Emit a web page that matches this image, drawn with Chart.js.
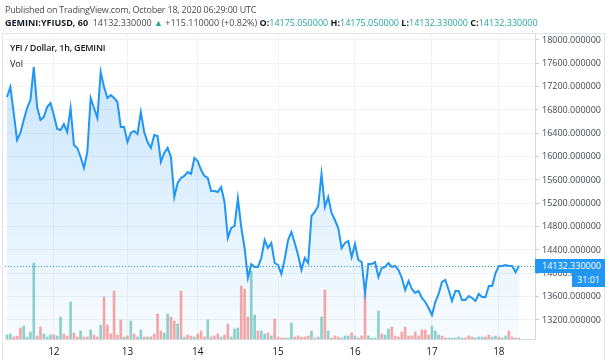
<!DOCTYPE html>
<html>
<head>
<meta charset="utf-8">
<script src="https://cdn.jsdelivr.net/npm/chart.js@4.4.0/dist/chart.umd.min.js"></script>
<style>
  html, body { margin: 0; padding: 0; background: #fff; }
  #wrap { position: relative; width: 609px; height: 360px; font-family: "Open Sans", sans-serif; color: #131722; }
  #chart { position: absolute; left: 0; top: 0; }
  #hdr { position: absolute; left: 5px; top: 3px; font-size: 9px; line-height: 13px; color: #4a4a4a; white-space: nowrap; }
  #hdr .l1 { letter-spacing: -0.2px; }
  #hdr b { color: #131722; font-weight: 700; }
  .up { color: #26a69a; }
  #legend { position: absolute; left: 10px; top: 40px; font-size: 9px; line-height: 16px; color: #131722; }
  #legend .t { font-weight: 600; letter-spacing: -0.2px; }
  #tag { position: absolute; left: 535px; width: 70px; height: 14px; background: #2196f3; color: #fff; font-size: 9px; line-height: 14px; padding-left: 7px; box-sizing: border-box; }
  #timer { position: absolute; left: 572px; width: 33px; height: 14px; background: #2196f3; color: #fff; font-size: 9px; line-height: 14px; text-align: center; }
</style>
</head>
<body>
<div id="wrap">
  <canvas id="chart" width="609" height="360"></canvas>
  <div id="hdr">
    <div class="l1">Published on TradingView.com, October 18, 2020 06:29:00 UTC</div>
    <div><b>GEMINI:YFIUSD, 60</b>&nbsp; 14132.330000 <span class="up">▲</span> +115.110000 (+0.82%) <b>O:</b><span class="up">14175.050000</span> <b>H:</b><span class="up">14175.050000</span> <b>L:</b><span class="up">14132.330000</span> <b>C:</b><span class="up">14132.330000</span></div>
  </div>
  <div id="legend">
    <div class="t">YFI / Dollar, 1h, GEMINI</div>
    <div>Vol</div>
  </div>
  <div id="tag">14132.330000</div>
  <div id="timer">31:01</div>
</div>
<script>
// hourly bars
const dayLabels = ['12', '13', '14', '15', '16', '17', '18'];
const dayTickIdx = [14, 36, 57, 81, 104, 127, 147];
const priceTicks = [13200, 13600, 14000, 14400, 14800, 15200, 15600, 16000, 16400, 16800, 17200, 17600, 18000];

const closes = [
    17023, 17194, 16749, 16286, 16406, 16629, 16834, 16971, 17537, 16851,
    16629, 16680, 16851, 16920, 16714, 16474, 16457, 16560, 16423, 16834,
    16200, 16149, 15994, 15806, 16080, 17006, 16834, 16663, 17451, 17194,
    17006, 17057, 17006, 16937, 16509, 16509, 16251, 16406, 16440, 16389,
    16766, 16423, 16251, 16149, 16371, 16354, 15909, 16063, 16149, 15994,
    15309, 15549, 15634, 15669, 15737, 15703, 15977, 15926, 15771, 15669,
    15634, 15411, 15411, 15394, 15480, 15223, 14606, 14777, 14811, 15291,
    14794, 14434, 13920, 14160, 14109, 14109, 14263, 14571, 14434, 14520,
    14177, 14143, 13989, 14246, 14571, 14709, 14520, 14314, 14057, 14263,
    14177, 14983, 15051, 15154, 15703, 15137, 15309, 15034, 14914, 14777,
    14434, 14520, 14554, 14280, 14503, 14229, 14194, 13663, 14160, 14160,
    14194, 13937, 14091, 14109, 14177, 14109, 14126, 14057, 13920, 13714,
    13869, 13731, 13663, 13697, 13577, 13509, 13406, 13286, 13509, 13646,
    13851, 13886, 13714, 13526, 13697, 13697, 13543, 13543, 13611, 13577,
    13526, 13646, 13594, 13594, 13783, 13783, 14006, 14126, 14126, 14143,
    14126, 14126, 14017.22, 14132.33
];

const volumes = [
    4, 5, 2, 3, 11, 13, 2, 7, 76, 3,
    12, 5, 2, 4, 4, 3, 22, 5, 3, 37,
    6, 2, 8, 2, 2, 9, 4, 2, 14, 42,
    14, 5, 48, 4, 19, 2, 3, 18, 5, 2,
    9, 2, 2, 2, 5, 25, 8, 6, 25, 22,
    18, 15, 48, 2, 4, 3, 2, 5, 8, 2,
    19, 2, 3, 5, 2, 4, 15, 2, 10, 11,
    53, 50, 22, 68, 24, 8, 8, 5, 6, 3,
    20, 2, 1, 1, 1, 16, 2, 3, 2, 2,
    3, 8, 1, 2, 22, 49, 8, 1, 3, 2,
    1, 3, 3, 6, 3, 1, 3, 52, 3, 1,
    1, 28, 5, 4, 10, 12, 3, 2, 7, 12,
    3, 3, 7, 3, 9, 9, 4, 13, 8, 4,
    3, 1, 1, 1, 1, 2, 1, 1, 3, 2,
    1, 2, 2, 2, 4, 2, 3, 2, 1, 3,
    8, 2, 1, 1
];

// g = up bar, r = down bar
const volumeSide = ('ggrrrggggr' + 'rgggrggrrg' + 'rrgrrgrrgr' + 'rrrrrgrgrg' + 'grgrrrrggr' +
    'rgrgrrgrrr' + 'grrrgrrggg' + 'rrrggrggrg' + 'rrrrggrrrr' + 'rgrggrgrrr' +
    'gggrgrrrgg' + 'ggrggrrrrr' + 'rrrrrrrggg' + 'rrgggggrrr' + 'gggrrggrgg' + 'rrgr').split('');

const lastClose = closes[closes.length - 1];
const lineBlue = '#2196f3';
const gridColor = '#f0f2f7';

// outline, dotted last-price line and the price tag
const overlayPlugin = {
    id: 'overlay',
    beforeDatasetsDraw(chart) {
        const { ctx, chartArea } = chart;
        const y = chart.scales.y.getPixelForValue(lastClose);
        ctx.save();
        ctx.strokeStyle = lineBlue;
        ctx.lineWidth = 1;
        ctx.setLineDash([1, 2]);
        ctx.beginPath();
        ctx.moveTo(chartArea.left, Math.round(y) + 0.5);
        ctx.lineTo(chartArea.right, Math.round(y) + 0.5);
        ctx.stroke();
        ctx.restore();
    },
    afterDraw(chart) {
        const { ctx, chartArea } = chart;
        ctx.save();
        ctx.strokeStyle = '#e0e3eb';
        ctx.lineWidth = 1;
        ctx.strokeRect(2.5, chartArea.top + 0.5, 602, chart.height - chartArea.top);
        ctx.restore();
        const y = Math.round(chart.scales.y.getPixelForValue(lastClose));
        document.getElementById('tag').style.top = (y - 7) + 'px';
        document.getElementById('timer').style.top = (y + 7) + 'px';
    }
};

const ctx = document.getElementById('chart').getContext('2d');
new Chart(ctx, {
    data: {
        datasets: [
            {
                type: 'line',
                data: closes.map((v, i) => ({ x: i, y: v })),
                yAxisID: 'y',
                borderColor: lineBlue,
                borderWidth: 2,
                pointRadius: 0,
                tension: 0,
                fill: 'start',
                backgroundColor: (c) => {
                    const area = c.chart.chartArea;
                    if (!area) return 'rgba(33,150,243,0.1)';
                    const g = c.chart.ctx.createLinearGradient(0, area.top, 0, area.bottom);
                    g.addColorStop(0, 'rgba(33,150,243,0.26)');
                    g.addColorStop(1, 'rgba(33,150,243,0.03)');
                    return g;
                },
                order: 0
            },
            {
                type: 'bar',
                data: volumes.map((v, i) => ({ x: i, y: v })),
                yAxisID: 'vol',
                backgroundColor: volumeSide.map(s => s === 'g' ? 'rgba(38,166,154,0.5)' : 'rgba(239,83,80,0.5)'),
                barThickness: 2,
                order: 1
            }
        ]
    },
    options: {
        responsive: false,
        animation: false,
        layout: { padding: { top: 33, left: 5, right: 0, bottom: 0 } },
        plugins: {
            legend: { display: false },
            tooltip: { enabled: false },
            filler: { drawTime: 'beforeDatasetsDraw' }
        },
        scales: {
            x: {
                type: 'linear',
                min: -0.6,
                max: 157.8,
                offset: false,
                grid: { color: gridColor, drawTicks: false, offset: false },
                border: { color: '#d6d9e0' },
                afterBuildTicks: (scale) => { scale.ticks = dayTickIdx.map(v => ({ value: v })); },
                afterFit: (scale) => { scale.height = 21; },
                ticks: {
                    padding: 7,
                    maxRotation: 0,
                    color: '#131722',
                    font: { family: 'Open Sans', size: 10 },
                    callback: (v) => dayLabels[dayTickIdx.indexOf(v)]
                }
            },
            y: {
                position: 'right',
                min: 12874,
                max: 18120,
                grid: { color: gridColor, tickLength: 4, tickColor: '#c8ccd6' },
                border: { color: '#d6d9e0' },
                afterBuildTicks: (scale) => { scale.ticks = priceTicks.map(v => ({ value: v })); },
                afterFit: (scale) => { scale.width = 74; },
                ticks: {
                    padding: 3,
                    color: '#434651',
                    font: { family: 'Open Sans', size: 9 },
                    callback: (v) => v.toFixed(6)
                }
            },
            vol: {
                display: false,
                min: 0,
                max: 306
            }
        }
    },
    plugins: [overlayPlugin]
});
</script>
</body>
</html>
